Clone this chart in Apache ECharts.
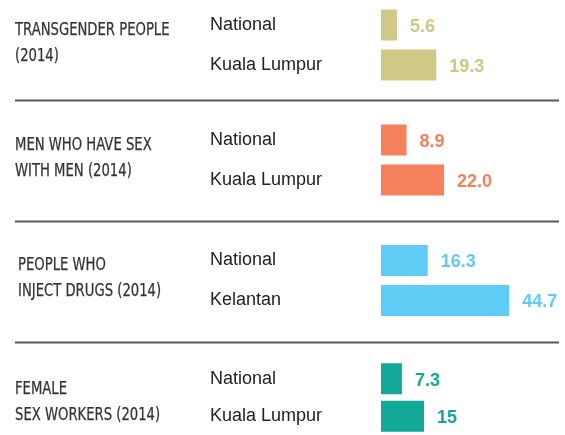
<!DOCTYPE html>
<html>
<head>
<meta charset="utf-8">
<script src="https://cdn.jsdelivr.net/npm/echarts@6/dist/echarts.min.js"></script>
<style>
  html, body { margin: 0; padding: 0; background: #fff; }
  #chart { width: 565px; height: 435px; }
</style>
</head>
<body>
<div id="chart"></div>
<script>
// group titles (left column)
const groupNames = [
  "TRANSGENDER PEOPLE\n(2014)",
  "MEN WHO HAVE SEX\nWITH MEN (2014)",
  "PEOPLE WHO\nINJECT DRUGS (2014)",
  "FEMALE\nSEX WORKERS (2014)",
];
// sub categories per group
const places = [
  ["National", "Kuala Lumpur"],
  ["National", "Kuala Lumpur"],
  ["National", "Kelantan"],
  ["National", "Kuala Lumpur"],
];
// values per group
const values = [
  [5.6, 19.3],
  [8.9, 22.0],
  [16.3, 44.7],
  [7.3, 15],
];
// labels as printed
const valueLabels = [
  ["5.6", "19.3"],
  ["8.9", "22.0"],
  ["16.3", "44.7"],
  ["7.3", "15"],
];
const colors = ["#cfc886", "#f4815a", "#5fccf6", "#13a999"];

const gridTops = [5, 120, 240.5, 360];
const gridHeights = [80, 80, 80, 84];
// centre of first title line, per group
const titleY = [30, 145, 265, 389];
const titleLefts = [15, 15, 18, 15];
const titleLineGap = 26.5;

const chart = echarts.init(document.getElementById("chart"));

let grid = [], xAxis = [], yAxis = [], series = [];
let graphic = [];
groupNames.forEach((name, i) => {
  grid.push({ left: 381, right: 12, top: gridTops[i], height: gridHeights[i] });
  xAxis.push({
    gridIndex: i, type: "value", min: 0, max: 60, show: false,
  });
  yAxis.push({
    gridIndex: i,
    type: "category",
    inverse: true,
    data: places[i],
    axisLine: { show: false },
    axisTick: { show: false },
    axisLabel: {
      align: "left",
      margin: 171,
      color: "#222",
      fontSize: 18,
      fontFamily: "Liberation Sans, Arial, sans-serif",
    },
  });
  series.push({
    type: "bar",
    xAxisIndex: i,
    yAxisIndex: i,
    barWidth: 31,
    data: values[i],
    itemStyle: { color: colors[i] },
    label: {
      show: true,
      position: "right",
      distance: 13,
      offset: [0, 2],
      color: colors[i],
      fontSize: 18,
      fontWeight: "bold",
      fontFamily: "Liberation Sans, Arial, sans-serif",
      formatter: (p) => valueLabels[i][p.dataIndex],
    },
    silent: true,
  });
  // condensed title text, squeezed a bit to look like the original
  name.split("\n").forEach((line, k) => {
    graphic.push({
      type: "text",
      x: titleLefts[i],
      y: titleY[i] + k * titleLineGap,
      scaleX: 0.815,
      style: {
        text: line,
        fontFamily: "DejaVu Sans Condensed, sans-serif",
        fontSize: 18,
        fill: "#333",
        stroke: "#333",
        lineWidth: 0.25,
        verticalAlign: "middle",
      },
    });
  });
});

// separators between groups
const sepY = [100.5, 221.5, 342.5];
sepY.forEach((y) => {
  graphic.push({
    type: "line",
    shape: { x1: 15, y1: y, x2: 559, y2: y },
    style: { stroke: "#5a5a5a", lineWidth: 2 },
  });
});

chart.setOption({
  animation: false,
  grid,
  xAxis,
  yAxis,
  series,
  graphic,
});
</script>
</body>
</html>
